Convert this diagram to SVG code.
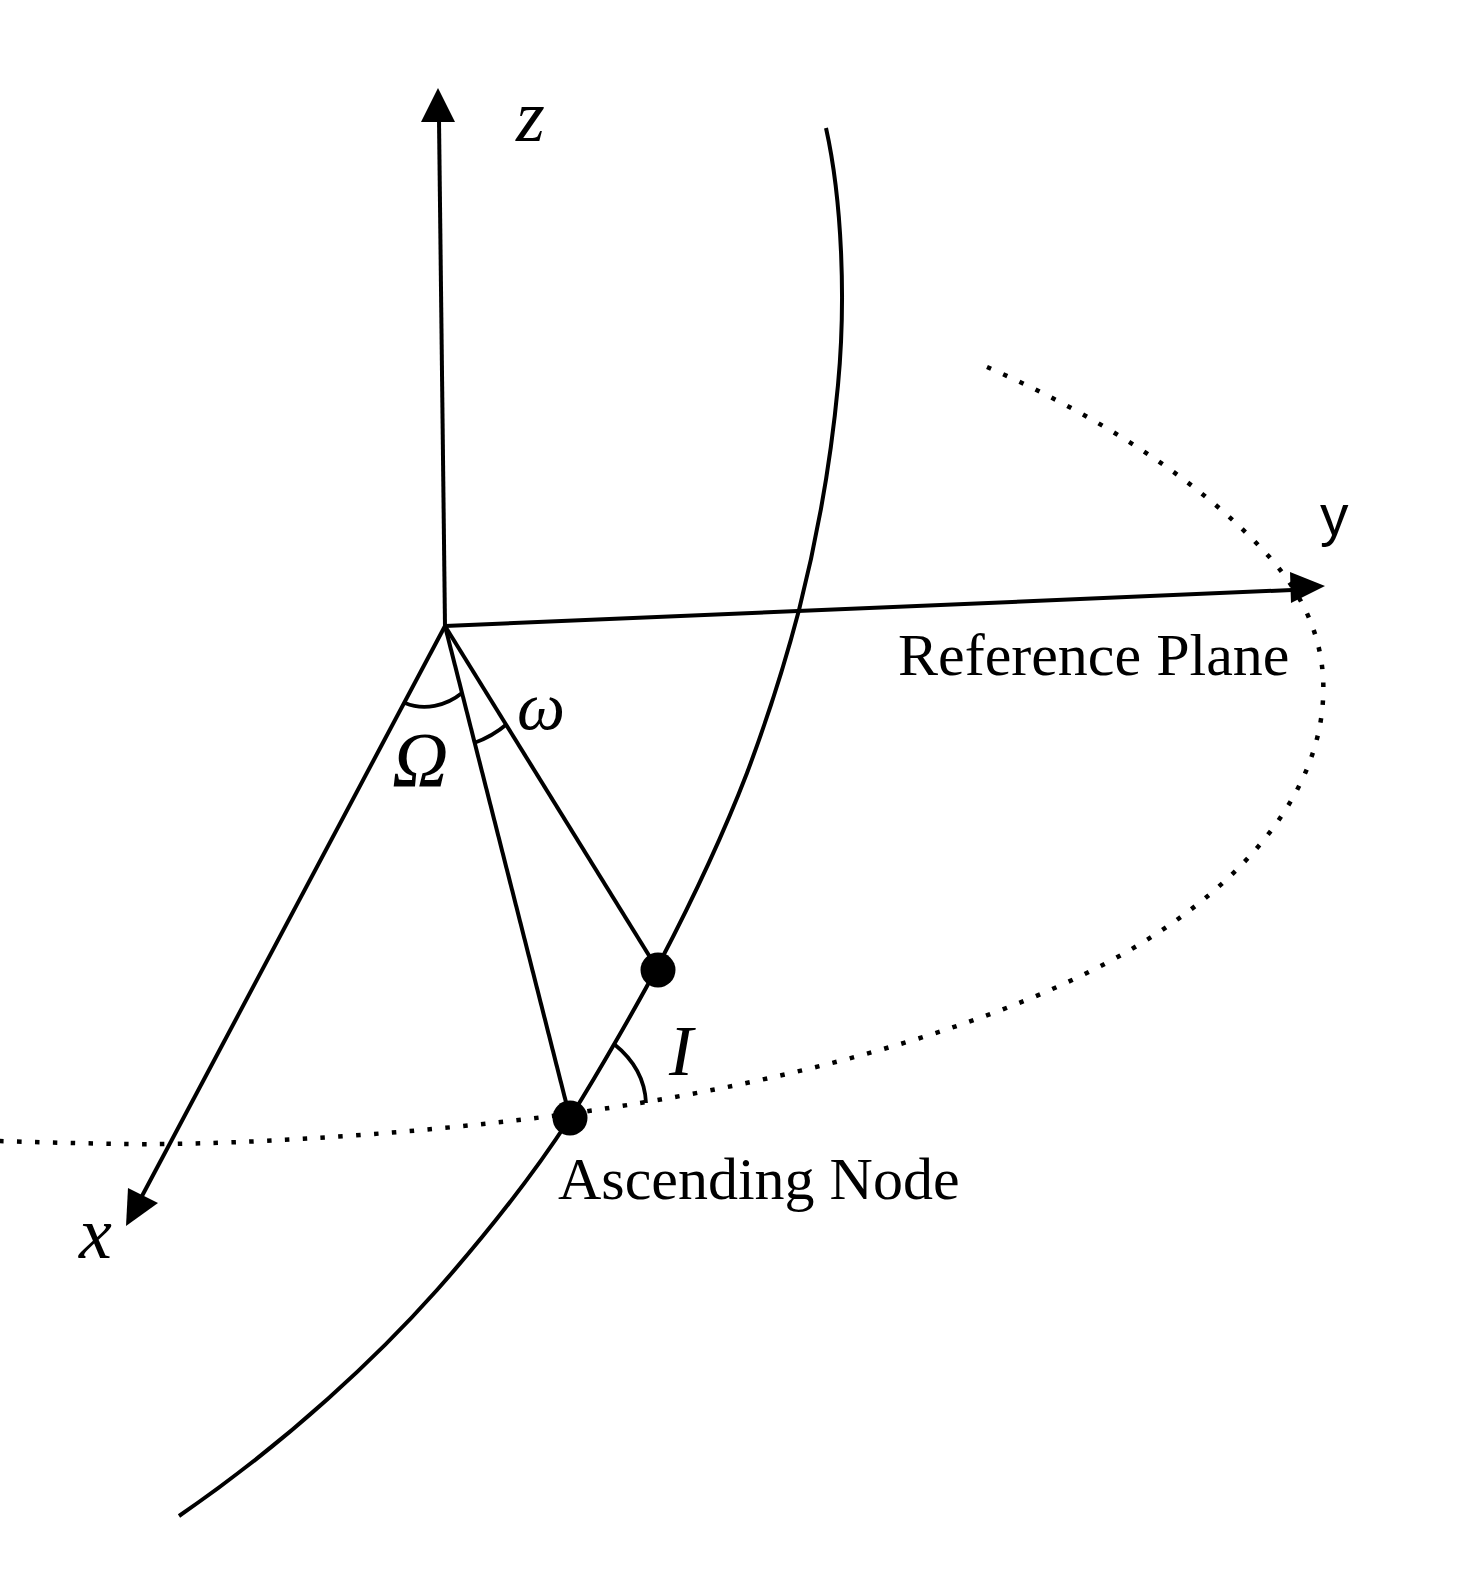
<svg xmlns="http://www.w3.org/2000/svg" width="1484" height="1572" viewBox="0 0 1484 1572">
<style>
.l{fill:none;stroke:#000;stroke-width:4}
.a{fill:none;stroke:#000;stroke-width:3.8}
.h{fill:#000;stroke:none}
.d{fill:none;stroke:#000;stroke-width:4.5;stroke-dasharray:4.5 13.36}
.t{font-family:"Liberation Serif","Times New Roman",serif;font-size:60px;fill:#000}
.i{font-style:italic}
</style>
<rect width="1484" height="1572" fill="#fff"/>
<g id="connectors">
<path class="d" d="M987 367C1090 412 1200 478 1272 560C1310 604 1326 650 1323 700C1318 790 1250 880 1130 950C1000 1025 810 1075 640 1103C480 1130 250 1146 120 1144C70 1143 30 1142 -3 1141"/>
<path class="l" d="M826 128C842 200 846 300 838 385C831 460 818 535 799 610C782 675 765 725 747 773C725 830 695 895 660 962C640 1000 600 1070 570 1118C535 1172 490 1230 437 1290C380 1354 290 1440 179 1516"/>
<path class="l" d="M439 120L445 626"/><polygon class="h" points="438,88 455,122 421,122"/>
<path class="l" d="M445 626L1292 590"/><polygon class="h" points="1325,586 1291,603 1290,572"/>
<path class="l" d="M445 626L142 1196"/><polygon class="h" points="126,1226 128,1188 158,1203"/>
<path class="l" d="M445 626L570 1118"/>
<path class="l" d="M445 626L658 970"/>
<path class="a" d="M405 703C424 711 446 706 462 693"/>
<path class="a" d="M474 743C488 738 500 730 507 724"/>
<path class="a" d="M614 1044C634 1060 645 1080 646 1103"/>
</g>
<g id="node-ascending"><circle cx="570" cy="1118" r="17.5" fill="#000"/></g>
<g id="node-satellite"><circle cx="658" cy="970" r="17.5" fill="#000"/></g>
<g id="labels">
<text class="t i" x="516" y="141" style="font-size:74px">z</text>
<text x="1320" y="535" style="font-family:'Liberation Sans',Arial,sans-serif;font-size:57px">y</text>
<text class="t i" x="79" y="1258" style="font-size:74px">x</text>
<text class="t" x="898" y="675">Reference Plane</text>
<text class="t" x="558" y="1199">Ascending Node</text>
<text class="t i" x="517" y="729" style="font-size:68px">ω</text>
<text class="t i" x="392" y="786" style="font-size:78px">Ω</text>
<text class="t i" x="669" y="1075" style="font-size:72px">I</text>
</g>
</svg>
